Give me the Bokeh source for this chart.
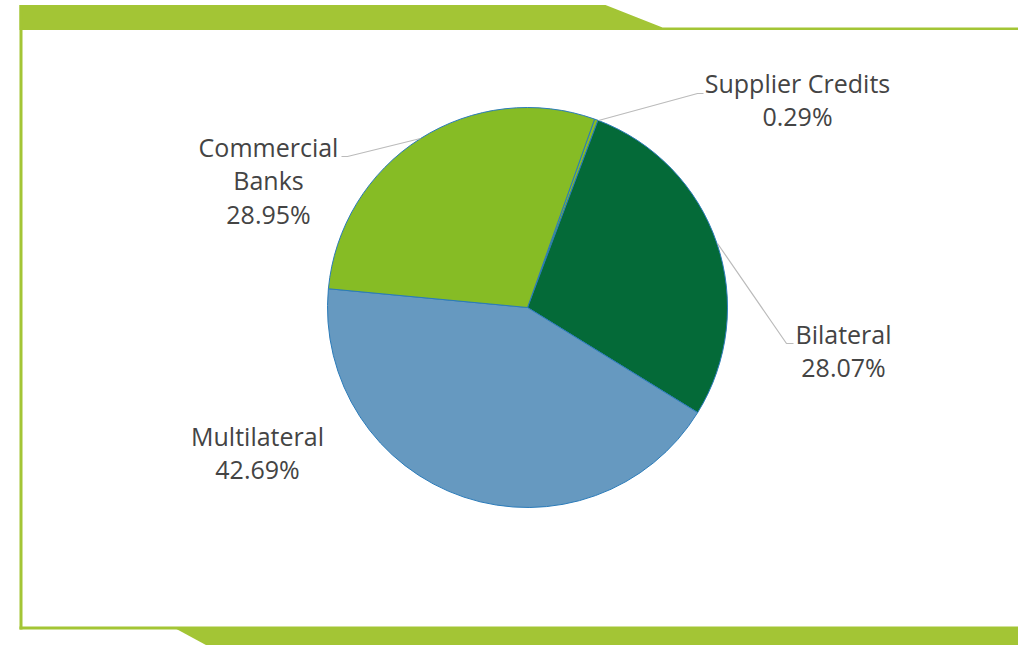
import numpy as np
from bokeh.plotting import figure
from bokeh.models import Range1d
from bokeh.core.properties import value
from bokeh.embed import file_html
from bokeh.resources import INLINE

# Data (clockwise order starting at the sliver)
categories = ["Supplier Credits", "Bilateral", "Multilateral", "Commercial Banks"]
shares = [0.29, 28.07, 42.69, 28.95]
colors = ["#86BC25", "#046A38", "#6699C0", "#86BC25"]
label_lines = [["Supplier Credits", "0.29%"],
               ["Bilateral", "28.07%"],
               ["Multilateral", "42.69%"],
               ["Commercial", "Banks", "28.95%"]]

W, H = 1018, 645
OX, OY = 0, 0  # page offset of the canvas

def Y(py):
    return -py

p = figure(width=W, height=H, output_backend="svg", toolbar_location=None,
           x_range=Range1d(OX, OX + W), y_range=Range1d(-(OY + H), -OY),
           min_border=0, outline_line_color=None, background_fill_color="white")
p.axis.visible = False
p.grid.visible = False

band = "#A3C535"
# top band with slant and thin line
p.patch([19, 605, 662, 1030, 1030, 19], [Y(4.5), Y(4.5), Y(27), Y(27), Y(29.5), Y(29.5)],
        fill_color=band, line_color=None)
# left vertical line
p.patch([19, 22, 22, 19], [Y(4.5), Y(4.5), Y(629), Y(629)], fill_color=band, line_color=None)
# bottom thin line
p.patch([19, 1030, 1030, 19], [Y(626), Y(626), Y(629), Y(629)], fill_color=band, line_color=None)
# bottom band with slant
p.patch([175, 1030, 1030, 234], [Y(628), Y(628), Y(660), Y(660)], fill_color=band, line_color=None)

# pie
cx, cy, r = 527, 307, 200
start_cw = 19.6  # degrees clockwise from 12 o'clock where first slice starts
frac = np.array(shares) / sum(shares) * 360.0
cum = np.concatenate([[0], np.cumsum(frac)]) + start_cw
starts = np.deg2rad(90 - cum[:-1])
ends = np.deg2rad(90 - cum[1:])
p.wedge(x=[cx] * 4, y=[Y(cy)] * 4, radius=r, start_angle=list(starts), end_angle=list(ends),
        direction="clock", fill_color=colors, line_color="#2B7BB9", line_width=1)

# leader lines
lc = "#BBBBBB"
p.line([598, 697, 703], [Y(120), Y(93), Y(93)], line_color=lc, line_width=1.2)
p.line([420, 347, 341], [Y(138), Y(156), Y(156)], line_color=lc, line_width=1.2)
p.line([717, 786, 793], [Y(243), Y(343), Y(343)], line_color=lc, line_width=1.2)

# labels
label_pos = [(797, 82), (843, 333), (257, 435), (268, 146)]
tx, ty, tt = [], [], []
for (lx, ly), lines in zip(label_pos, label_lines):
    for i, s in enumerate(lines):
        tx.append(lx)
        ty.append(Y(ly + i * 33.8))
        tt.append(s)
p.text(x=tx, y=ty, text=tt, text_align="center", text_baseline="middle",
       text_font=value("Open Sans"), text_font_size="25px", text_color="#444444")

open("out.html", "w").write(file_html(p, INLINE))
